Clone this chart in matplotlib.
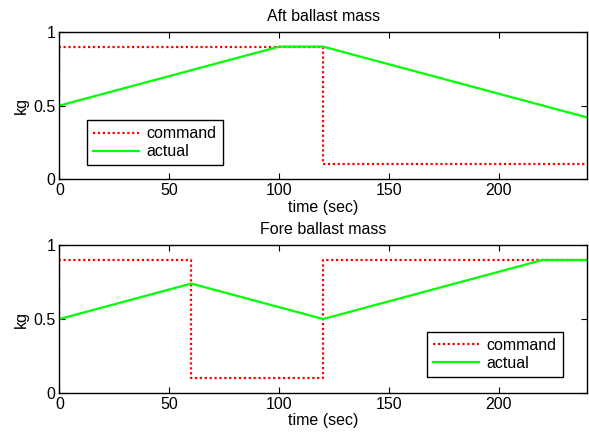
import matplotlib
matplotlib.use("Agg")
import matplotlib.pyplot as plt

plt.rcParams["font.family"] = ["Liberation Sans", "DejaVu Sans"]
plt.rcParams["font.size"] = 11.5

# aft tank: command steps and measured mass (kg) over time (sec)
aft_cmd_t = [0, 0, 120, 120, 240]
aft_cmd_kg = [0.5, 0.9, 0.9, 0.1, 0.1]
aft_act_t = [0, 100, 120, 240]
aft_act_kg = [0.5, 0.9, 0.9, 0.42]

# fore tank
fore_cmd_t = [0, 0, 60, 60, 120, 120, 240]
fore_cmd_kg = [0.5, 0.9, 0.9, 0.1, 0.1, 0.9, 0.9]
fore_act_t = [0, 60, 120, 220, 240]
fore_act_kg = [0.5, 0.74, 0.5, 0.9, 0.9]

xticks = [0, 50, 100, 150, 200]
yticks = [0, 0.5, 1]
yticklabels = ["0", "0.5", "1"]


def draw_panel(ax, title, cmd_t, cmd_kg, act_t, act_kg, legend_anchor, legend_loc):
    ax.plot(cmd_t, cmd_kg, color="#ff0000", linestyle=(0, (1, 1.2)), linewidth=1.6,
            label="command")
    ax.plot(act_t, act_kg, color="#00ff00", linewidth=1.6, label="actual")
    ax.set_xlim(0, 240)
    ax.set_ylim(0, 1)
    ax.set_xticks(xticks)
    ax.set_yticks(yticks, yticklabels)
    ax.tick_params(direction="in", top=True, right=True, length=4, width=0.8, pad=3)
    ax.set_title(title, fontsize=11.5, pad=8)
    ax.set_xlabel("time (sec)", labelpad=1)
    ax.set_ylabel("kg", labelpad=3)
    for s in ax.spines.values():
        s.set_linewidth(1.0)
    leg = ax.legend(loc=legend_loc, bbox_to_anchor=legend_anchor, fancybox=False,
                    framealpha=1, edgecolor="black", handlelength=2.9,
                    borderpad=0.38, labelspacing=0.18, handletextpad=0.45,
                    borderaxespad=0)
    leg.get_frame().set_linewidth(1.0)


fig = plt.figure(figsize=(5.89, 4.37), dpi=100)
ax1 = fig.add_axes([0.101, 0.590, 0.895, 0.337])
ax2 = fig.add_axes([0.101, 0.101, 0.895, 0.338])

draw_panel(ax1, "Aft ballast mass", aft_cmd_t, aft_cmd_kg, aft_act_t, aft_act_kg,
           (0.052, 0.095), "lower left")
draw_panel(ax2, "Fore ballast mass", fore_cmd_t, fore_cmd_kg, fore_act_t, fore_act_kg,
           (0.9545, 0.108), "lower right")

fig.savefig("out.png", dpi=100)
